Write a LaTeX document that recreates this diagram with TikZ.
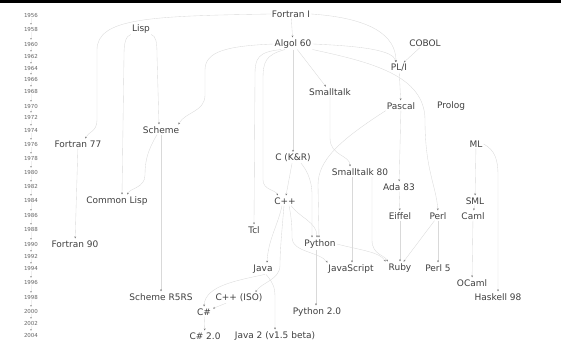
\documentclass[tikz,border=0pt]{standalone}
\usepackage{fontspec}
\setmainfont{DejaVu Sans}
\usetikzlibrary{arrows.meta}

\begin{document}
\begin{tikzpicture}[x=1pt,y=-1pt,shorten >=1pt,line width=0.35pt,draw=black!15]
    \tikzstyle{lang}=[text=black!75,fill=white,inner sep=1pt,font=\fontsize{9}{10}\selectfont]
    \tikzstyle{year label}=[text=black!60,inner sep=1pt,font=\fontsize{5.5}{6}\selectfont]
    \tikzstyle{link}=[-{Stealth[length=2pt,width=1.8pt,black!55]}]
    \tikzstyle{year link}=[-{Stealth[length=1.5pt,width=1.5pt,black!45]},draw=black!6]

    \useasboundingbox (0,0) rectangle (561,342);
    \fill[black] (0,0) rectangle (561,2.6);

    % Draw the time line
    \foreach \yr/\y in {1956/15,1958/29,1960/44,1962/56,1964/68,1966/79,1968/91,
                        1970/106,1972/117,1974/130,1976/144,1978/158,1980/172,
                        1982/186,1984/200,1986/215,1988/229,1990/244,1992/256,
                        1994/268,1996/282,1998/297,2000/311,2002/323,2004/335}
        \node[year label] (Y-\yr) at (31,\y) {\yr};
    \foreach \yr [remember=\yr as \last (initially 1956)] in {1958,1960,...,2004}
        \draw[year link] (Y-\last) -- (Y-\yr);

    % Draw the languages
    \node[lang] (fortran1) at (291,14) {Fortran I};
    \node[lang] (lisp) at (141,29) {Lisp};
    \node[lang] (algol) at (293,44) {Algol 60};
    \node[lang] (cobol) at (425,43) {COBOL};
    \node[lang] (pli) at (399,68) {PL/I};
    \node[lang] (smalltalk) at (330,92) {Smalltalk};
    \node[lang] (pascal) at (401,106) {Pascal};
    \node[lang] (prolog) at (451,106) {Prolog};
    \node[lang] (scheme) at (161,130) {Scheme};
    \node[lang] (fortran77) at (78,144) {Fortran 77};
    \node[lang] (ml) at (476,144) {ML};
    \node[lang] (ckr) at (293,158) {C (K\&R)};
    \node[lang] (smalltalk80) at (360,172) {Smalltalk 80};
    \node[lang] (ada) at (399,187) {Ada 83};
    \node[lang] (commonlisp) at (117,201) {Common Lisp};
    \node[lang] (cpp) at (285,201) {C++};
    \node[lang] (sml) at (475,201) {SML};
    \node[lang] (eiffel) at (400,216) {Eiffel};
    \node[lang] (perl) at (438,216) {Perl};
    \node[lang] (caml) at (473,216) {Caml};
    \node[lang] (tcl) at (254,230) {Tcl};
    \node[lang] (fortran90) at (75,244) {Fortran 90};
    \node[lang] (python) at (320,244) {Python};
    \node[lang] (java) at (263,269) {Java};
    \node[lang] (javascript) at (351,269) {JavaScript};
    \node[lang] (ruby) at (400,268) {Ruby};
    \node[lang] (perl5) at (438,268) {Perl 5};
    \node[lang] (ocaml) at (472,283) {OCaml};
    \node[lang] (r5rs) at (161,297) {Scheme R5RS};
    \node[lang] (cppiso) at (239,298) {C++ (ISO)};
    \node[lang] (haskell) at (498,297) {Haskell 98};
    \node[lang] (csharp) at (204,312) {C\#};
    \node[lang] (python2) at (317,312) {Python 2.0};
    \node[lang] (csharp2) at (205,336) {C\# 2.0};
    \node[lang] (java2) at (275,336) {Java 2 (v1.5 beta)};

    % Connect the languages
    \draw[link] (fortran1) -- (algol);
    \draw[link] (fortran1.west) .. controls (150,16) and (97,18) .. (97,50) -- (97,120)
        .. controls (97,132) and (88,132) .. ([xshift=7pt]fortran77.north);
    \draw[link] (fortran1.east) .. controls (370,18) and (396,35) .. ([xshift=-3pt]pli.north);
    \draw[link] (algol.east) .. controls (360,46) and (394,50) .. ([xshift=-3pt]pli.north);
    \draw[link] (cobol) -- ([xshift=4pt]pli.north);
    \draw[link] (algol.south east) .. controls (370,62) and (425,75) .. (425,120)
        .. controls (425,170) and (436,185) .. (perl.north);
    \draw[link] (algol.west) .. controls (225,46) and (205,52) .. (205,70) -- (205,95)
        .. controls (205,112) and (185,112) .. ([xshift=17pt]scheme.north);
    \draw[link] (algol) -- (smalltalk);
    \draw[link] (algol) -- (ckr);
    \draw[link] ([xshift=-8pt]algol.south) .. controls (265,55) and (263,62) .. (263,80) -- (263,180)
        .. controls (263,190) and (276,190) .. ([xshift=-7pt]cpp.north);
    \draw[link] ([xshift=-12pt]algol.south) .. controls (258,52) and (255,58) .. (255,75) -- (tcl.north);
    \draw[link] (lisp.south west) .. controls (126,36) and (124,42) .. (124,55) -- ([xshift=5pt]commonlisp.north);
    \draw[link] (lisp.south east) .. controls (156,36) and (157,42) .. (157,55) -- ([xshift=-2pt]scheme.north);
    \draw[link] ([xshift=-4pt]scheme.south) .. controls (148,150) and (145,160) .. (145,175)
        .. controls (145,188) and (130,188) .. ([xshift=10pt]commonlisp.north);
    \draw[link] (scheme) -- (r5rs);
    \draw[link] (fortran77) -- (fortran90);
    \draw[link] (ckr) -- (cpp);
    \draw[link] ([xshift=8pt]ckr.south) .. controls (305,168) and (312,178) .. (312,195) -- ([xshift=-8pt]python.north);
    \draw[link] (pascal.south west) .. controls (340,140) and (318,160) .. (318,185) -- ([xshift=-1pt]python.north);
    \draw[link] ([xshift=6pt]cpp.south) .. controls (300,218) and (317,222) .. ([xshift=-3pt]python.north);
    \draw[link] (smalltalk) -- (330,138) .. controls (330,156) and (350,155) .. ([xshift=-10pt]smalltalk80.north);
    \draw[link] (pli) -- (pascal);
    \draw[link] (pascal) -- (ada);
    \draw[link] (ada) -- (eiffel);
    \draw[link] (eiffel) -- (ruby);
    \draw[link] (perl) -- ([xshift=3pt]ruby.north);
    \draw[link] (perl) -- (perl5);
    \draw[link] ([xshift=12pt]smalltalk80.south) -- (372,240) .. controls (372,255) and (385,255) .. ([xshift=-12pt]ruby.north);
    \draw[link] ([xshift=-8pt]smalltalk80.south) -- ([xshift=1pt]javascript.north);
    \draw[link] ([xshift=4pt]cpp.south) .. controls (292,220) and (292,230) .. (292,238)
        .. controls (292,252) and (320,252) .. ([xshift=-23pt]javascript.north);
    \draw[link] (python.east) .. controls (360,250) and (380,252) .. ([xshift=-14pt]ruby.north);
    \draw[link] ([xshift=-3pt]cpp.south) .. controls (278,225) and (268,240) .. ([xshift=4pt]java.north);
    \draw[link] ([xshift=-1pt]cpp.south) .. controls (282,230) and (280,250) .. (280,265)
        .. controls (280,280) and (262,282) .. ([xshift=16pt]cppiso.north);
    \draw[link] (cppiso) -- (csharp);
    \draw[link] ([xshift=2pt]java.south) .. controls (240,280) and (205,285) .. (csharp.north);
    \draw[link] ([xshift=3pt]java.south) .. controls (275,285) and (275,290) .. (275,300) -- (java2.north);
    \draw[link] (csharp) -- (csharp2);
    \draw[link] ([xshift=-4pt]python.south) -- ([xshift=-1pt]python2.north);
    \draw[link] (ml) -- (sml);
    \draw[link] (ml.east) .. controls (495,150) and (498,160) .. (498,175) -- (haskell.north);
    \draw[link] (sml) -- (caml);
    \draw[link] (caml) -- (ocaml);
\end{tikzpicture}
\end{document}
